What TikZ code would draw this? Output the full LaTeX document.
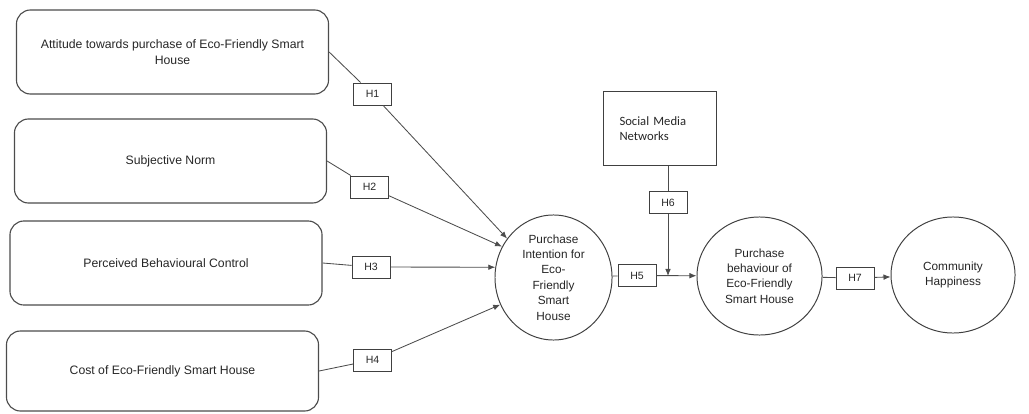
\documentclass[tikz,border=0pt]{standalone}
\usepackage{fontspec}
\setmainfont{Liberation Sans}
\newfontfamily\smnfont{Carlito}
\usetikzlibrary{shapes.geometric,arrows.meta}

\tikzset{
  constructbox/.style={draw=black!70, line width=0.8pt, rounded corners=0.35cm,
    minimum width=7.8cm, minimum height=2.1cm, inner sep=0pt, align=center,
    font=\fontsize{8.7}{11}\selectfont, text=black!85},
  hypbox/.style={draw=black!75, line width=0.7pt, minimum width=0.95cm,
    minimum height=0.55cm, inner sep=0pt, font=\fontsize{7.5}{9}\selectfont, text=black!85},
  latent/.style={ellipse, draw=black!75, line width=0.7pt, inner sep=0pt,
    align=center, font=\fontsize{8.4}{11}\selectfont, text=black!85},
  link/.style={draw=black!70, line width=0.6pt},
  arrowlink/.style={link, -{Latex[length=5pt,width=4pt]}}
}

\begin{document}
\begin{tikzpicture}[x=0.025cm, y=-0.025cm]
\useasboundingbox (0,0) rectangle (1029,413);

% Konstrukte links
\node[constructbox] (att) at (172.5,52) {Attitude towards purchase of Eco-Friendly Smart\\House};
\node[constructbox] (sn) at (170.5,161) {Subjective Norm};
\node[constructbox] (pbc) at (166,263) {Perceived Behavioural Control};
\node[constructbox, minimum height=2.0cm] (cost) at (162.5,371) {Cost of Eco-Friendly Smart House};

% Ellipsen
\node[latent, minimum width=2.925cm, minimum height=3.125cm] (int) at (553.5,277.5)
  {Purchase\\Intention for\\Eco-\\Friendly\\Smart\\House};
\node[latent, minimum width=3.125cm, minimum height=2.95cm] (beh) at (759.5,276)
  {Purchase\\behaviour of\\Eco-Friendly\\Smart House};
\node[latent, minimum width=3.1cm, minimum height=2.9cm] (hap) at (953,275)
  {Community\\Happiness};

% Moderator
\node[draw=black!75, line width=0.7pt, minimum width=2.825cm, minimum height=1.825cm,
  inner sep=0pt, text width=2.0cm, align=left, font=\smnfont\fontsize{9}{11}\selectfont,
  text=black!85] (smn) at (659.5,128.5) {Social Media\\Networks};

% Hypothesen
\node[hypbox] (h1) at (372.5,94) {H1};
\node[hypbox] (h2) at (369.5,187) {H2};
\node[hypbox] (h3) at (371,267) {H3};
\node[hypbox] (h4) at (372.5,360) {H4};
\node[hypbox] (h5) at (637,275.5) {H5};
\node[hypbox] (h6) at (668,202.5) {H6};
\node[hypbox] (h7) at (855,278) {H7};
\coordinate (h6end) at (668,276);

% Pfade
\draw[link] (att.east) -- (h1);
\draw[arrowlink] (h1) -- (int.140);
\draw[link] (sn.east) -- (h2);
\draw[arrowlink] (h2) -- (int.149);
\draw[link] (pbc.east) -- (h3);
\draw[arrowlink] (h3) -- (int.170);
\draw[link] (cost.east) -- (h4);
\draw[arrowlink] (h4) -- (int.207);
\draw[link] (int) -- (h5);
\draw[arrowlink] (h5) -- (beh);
\draw[link] (smn.south -| h6) -- (h6);
\draw[arrowlink] (h6) -- (h6end);
\draw[link] (beh) -- (h7);
\draw[arrowlink] (h7) -- (hap);

\end{tikzpicture}
\end{document}
